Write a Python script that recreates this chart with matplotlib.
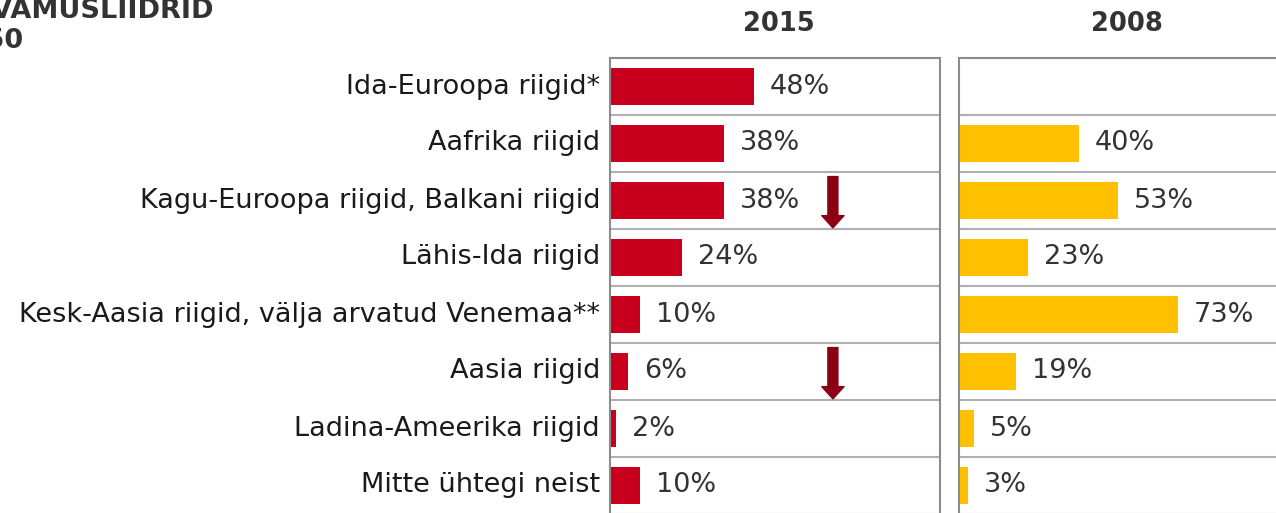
import numpy as np
import matplotlib
matplotlib.use("Agg")
import matplotlib.pyplot as plt

plt.rcParams["font.family"] = "DejaVu Sans"

# data
categories = [
    "Ida-Euroopa riigid*",
    "Aafrika riigid",
    "Kagu-Euroopa riigid, Balkani riigid",
    "Lähis-Ida riigid",
    "Kesk-Aasia riigid, välja arvatud Venemaa**",
    "Aasia riigid",
    "Ladina-Ameerika riigid",
    "Mitte ühtegi neist",
]
values_2015 = [48, 38, 38, 24, 10, 6, 2, 10]
values_2008 = [None, 40, 53, 23, 73, 19, 5, 3]
down_arrows = [2, 5]  # rows marked with a decrease arrow

RED = "#C8001E"
YELLOW = "#FFC000"
ARROW = "#8B0012"
TXT = "#333333"

W, H = 1276, 513
fig = plt.figure(figsize=(W / 100, H / 100), dpi=100)

def px_axes(left, top, width, height):
    return fig.add_axes([left / W, 1 - (top + height) / H, width / W, height / H])

n = len(categories)
row_h = 57
ax1 = px_axes(610, 58, 330, n * row_h)
ax2 = px_axes(959, 58, 330, n * row_h)

def style_panel(ax):
    ax.set_xlim(0, 110)
    ax.set_ylim(n, 0)
    ax.set_xticks([])
    ax.set_yticks([])
    for s in ax.spines.values():
        s.set_color("#8c8c8c")
        s.set_linewidth(1.5)
    for k in range(1, n):
        ax.axhline(k, color="#b0b0b0", lw=1.5, zorder=1)

y = np.arange(n) + 0.5
for ax, vals, col in [(ax1, values_2015, RED), (ax2, values_2008, YELLOW)]:
    style_panel(ax)
    for yi, v in zip(y, vals):
        if v is None:
            continue
        ax.barh(yi, v, height=0.65, color=col, zorder=2)
        ax.text(v + 5.3, yi, f"{v}%", va="center", ha="left",
                fontsize=19.5, color=TXT)

for yi, lab in zip(y, categories):
    ax1.text(-3.3, yi, lab, ha="right", va="center", fontsize=19.5,
             color="#1a1a1a", clip_on=False)

for r in down_arrows:
    ax1.annotate("", xy=(74.3, r + 0.98), xytext=(74.3, r + 0.08),
                 arrowprops=dict(arrowstyle="simple,head_width=1.0,head_length=0.55,tail_width=0.45",
                                 mutation_scale=16, color=ARROW,
                                 shrinkA=0, shrinkB=0), zorder=3)

fig.text(779 / W, 1 - 24 / H, "2015", ha="center", va="center",
         fontsize=18.5, fontweight="bold", color=TXT)
fig.text(1127 / W, 1 - 24 / H, "2008", ha="center", va="center",
         fontsize=18.5, fontweight="bold", color=TXT)

fig.text(213 / W, 1 - 11 / H, "EELISTATUD ELUKOHA RAHVAMUSLIIDRID", ha="right",
         va="center", fontsize=19.5, fontweight="bold", color=TXT)
fig.text(24 / W, 1 - 41 / H, "N=50", ha="right",
         va="center", fontsize=19.5, fontweight="bold", color=TXT)

fig.savefig("out.png", dpi=100)
